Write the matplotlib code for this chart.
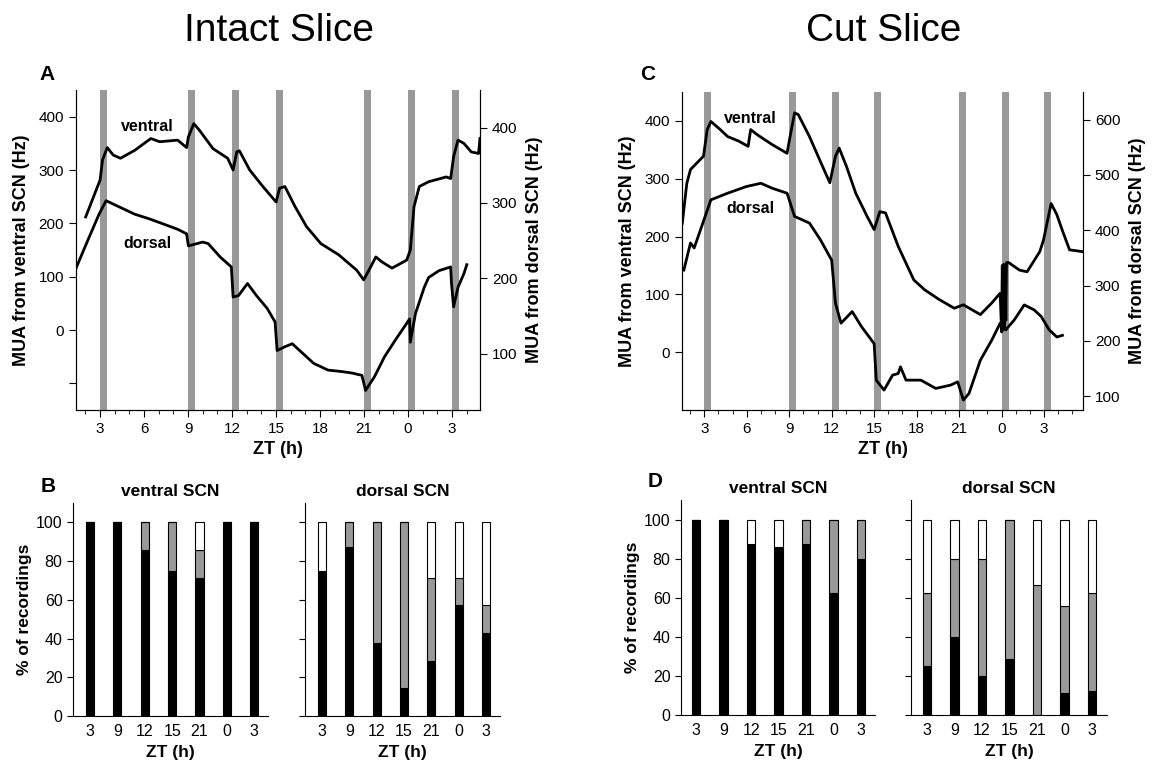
import matplotlib
matplotlib.use("Agg")
import matplotlib.pyplot as plt
from matplotlib.ticker import MultipleLocator

plt.rcParams['font.family'] = ['Liberation Sans', 'DejaVu Sans']

# ---- data -------------------------------------------------------------
# time axis in hours (ZT 0 of day 2 = 24, ZT 3 of day 2 = 27)
zt_ticks = [3, 6, 9, 12, 15, 18, 21, 24, 27]
zt_tick_labels = ['3', '6', '9', '12', '15', '18', '21', '0', '3']
pulse_starts = [3, 9, 12, 15, 21, 24, 27]
pulse_len = 0.5

# intact slice (A)
a_ventral_t = [2.02, 3.0, 3.17, 3.49, 3.9, 4.39, 5.37, 6.46, 7.07, 8.29, 8.9, 9.02, 9.39, 9.76,
               10.7, 11.7, 12.07, 12.32, 12.5, 13.2, 14.1, 15.0, 15.24, 15.6, 16.3, 17.07,
               18.05, 19.27, 20.5, 20.97, 21.46, 21.8, 22.2, 22.9, 23.9, 24.15, 24.4, 24.76,
               25.4, 26.6, 26.9, 27.1, 27.4, 27.8, 28.3, 28.8, 28.9]
a_ventral = [212, 281, 319, 342, 328, 322, 337, 359, 353, 356, 342, 362, 387, 375,
             340, 322, 300, 334, 336, 300, 269, 240, 266, 269, 231, 194,
             162, 141, 112, 94, 119, 137, 128, 116, 131, 150, 231, 269,
             278, 287, 284, 325, 356, 350, 334, 331, 359]
a_dorsal_t = [1.29, 2.2, 2.93, 3.41, 4.39, 5.37, 6.34, 7.32, 8.29, 8.9, 9.02, 10.0, 10.37,
              11.2, 11.95, 12.07, 12.44, 13.05, 13.66, 14.39, 14.93, 15.07, 15.6, 16.1,
              16.83, 17.56, 18.54, 19.5, 20.2, 20.85, 21.1, 21.7, 22.4, 23.2, 23.9, 24.1,
              24.15, 24.5, 25.1, 25.4, 26.1, 26.9, 26.95, 27.1, 27.4, 27.8, 28.0]
a_dorsal = [210, 252, 285, 303, 294, 285, 279, 272, 265, 259, 243, 248, 246,
            228, 215, 175, 177, 193, 177, 160, 142, 104, 109, 113,
            100, 87, 78, 76, 74, 71, 51, 69, 96, 120, 140, 146,
            115, 153, 188, 201, 210, 215, 195, 162, 188, 206, 218]

# cut slice (C)
c_ventral_t = [1.45, 1.77, 2.03, 2.95, 3.21, 3.47, 4.13, 4.65, 5.44, 6.1, 6.28, 6.75, 7.8,
               8.85, 8.98, 9.38, 9.64, 10.43, 11.2, 11.87, 12.27, 12.53, 13.05, 13.7, 14.5,
               15.0, 15.4, 15.8, 16.7, 17.8, 18.56, 19.6, 20.66, 21.3, 22.5, 23.3, 23.9,
               24.0, 24.05, 24.1, 24.15, 24.2, 24.25, 24.3, 24.35, 24.5, 25.26, 25.8, 26.7,
               26.96, 27.5, 27.9, 28.3, 28.8, 29.7]
c_ventral = [223, 292, 316, 339, 385, 399, 385, 373, 365, 356, 385, 376, 359,
             344, 362, 414, 411, 373, 330, 293, 339, 353, 321, 275, 235,
             212, 243, 241, 183, 125, 108, 91, 76, 82, 65, 85, 102,
             35, 150, 38, 152, 40, 148, 55, 155, 155, 142, 139, 174,
             194, 257, 238, 210, 177, 174]
c_dorsal_t = [1.56, 2.03, 2.29, 2.82, 3.47, 4.65, 5.97, 7.0, 7.8, 8.85, 9.38, 10.43, 11.2,
              12.0, 12.27, 12.66, 13.45, 14.1, 15.0, 15.15, 15.7, 16.3, 16.7, 16.86, 17.25,
              18.3, 19.35, 20.4, 20.9, 21.3, 21.7, 22.5, 23.3, 23.9, 24.3, 24.9, 25.6,
              26.3, 26.8, 27.36, 27.9, 28.3]
c_dorsal = [328, 377, 368, 407, 455, 467, 479, 485, 476, 467, 425, 413, 383,
            346, 268, 232, 253, 226, 195, 129, 111, 138, 141, 153, 129,
            129, 114, 120, 126, 93, 105, 165, 201, 232, 220, 238, 265,
            256, 244, 220, 207, 210]

# stacked percentages of recordings (black / grey / white)
bar_labels = ['3', '9', '12', '15', '21', '0', '3']
b_ventral_black = [100, 100, 85.7, 75.0, 71.4, 100, 100]
b_ventral_grey = [0, 0, 14.3, 25.0, 14.3, 0, 0]
b_ventral_white = [0, 0, 0, 0, 14.3, 0, 0]
b_dorsal_black = [75.0, 87.5, 37.5, 14.3, 28.6, 57.1, 42.9]
b_dorsal_grey = [0, 12.5, 62.5, 85.7, 42.8, 14.3, 14.2]
b_dorsal_white = [25.0, 0, 0, 0, 28.6, 28.6, 42.9]
d_ventral_black = [100, 100, 87.5, 85.7, 87.5, 62.5, 80.0]
d_ventral_grey = [0, 0, 0, 0, 12.5, 37.5, 20.0]
d_ventral_white = [0, 0, 12.5, 14.3, 0, 0, 0]
d_dorsal_black = [25.0, 40.0, 20.0, 28.6, 0, 11.1, 12.5]
d_dorsal_grey = [37.5, 40.0, 60.0, 71.4, 66.7, 44.5, 50.0]
d_dorsal_white = [37.5, 20.0, 20.0, 0, 33.3, 44.4, 37.5]

GREY = '#999999'
W, H = 1162, 763


def px_axes(fig, x0, x1, y0, y1):
    """axes from pixel box (top-left origin)"""
    return fig.add_axes([x0 / W, 1 - y1 / H, (x1 - x0) / W, (y1 - y0) / H])


def trace_panel(fig, box, tv, v, td, d, lylim, lyticks, lylabels, rylim, ryticks, xlim,
                vlab, dlab):
    ax = px_axes(fig, *box)
    for s in pulse_starts:
        ax.axvspan(s, s + pulse_len, color=GREY, lw=0, zorder=0)
    ax.plot(tv, v, color='black', lw=2.0, zorder=3)
    ax.set_xlim(*xlim)
    ax.set_ylim(*lylim)
    ax.set_yticks(lyticks)
    ax.set_yticklabels(lylabels)
    ax.set_xticks(zt_ticks)
    ax.set_xticklabels(zt_tick_labels)
    ax.xaxis.set_minor_locator(MultipleLocator(1))
    ax.spines['top'].set_visible(False)
    ax.tick_params(labelsize=11, direction='out', length=5)
    ax.tick_params(which='minor', length=3)
    ax.set_xlabel('ZT (h)', fontsize=13, fontweight='bold', labelpad=4)
    ax.set_ylabel('MUA from ventral SCN (Hz)', fontsize=13, fontweight='bold', labelpad=6)
    ax.text(vlab[0], vlab[1], 'ventral', fontsize=11.5, fontweight='bold', ha='center', va='center')
    ax.text(dlab[0], dlab[1], 'dorsal', fontsize=11.5, fontweight='bold', ha='center', va='center')

    ax2 = ax.twinx()
    ax2.plot(td, d, color='black', lw=2.0, zorder=3)
    ax2.set_ylim(*rylim)
    ax2.set_yticks(ryticks)
    ax2.spines['top'].set_visible(False)
    ax2.tick_params(labelsize=11, direction='out', length=5)
    ax2.set_ylabel('MUA from dorsal SCN (Hz)', fontsize=13, fontweight='bold', labelpad=6)
    return ax


def bar_panel(fig, box, black, grey, white, xlim, title, ylabel):
    ax = px_axes(fig, *box)
    x = list(range(len(bar_labels)))
    kw = dict(width=0.3, edgecolor='black', linewidth=0.8)
    ax.bar(x, black, color='black', **kw)
    ax.bar(x, grey, bottom=black, color=GREY, **kw)
    ax.bar(x, white, bottom=[b + g for b, g in zip(black, grey)], color='white', **kw)
    ax.set_xlim(*xlim)
    ax.set_ylim(0, 110)
    ax.set_yticks([0, 20, 40, 60, 80, 100])
    ax.set_xticks(x)
    ax.set_xticklabels(bar_labels)
    for sp in ('top', 'right'):
        ax.spines[sp].set_visible(False)
    ax.tick_params(labelsize=11.5, direction='out', length=4)
    ax.tick_params(axis='x', length=0, pad=6)
    ax.set_xlabel('ZT (h)', fontsize=12.5, fontweight='bold', labelpad=4)
    ax.set_title(title, fontsize=12.5, fontweight='bold', pad=5)
    if ylabel:
        ax.set_ylabel('% of recordings', fontsize=12.5, fontweight='bold', labelpad=3)
    else:
        ax.set_yticklabels([])
    return ax


fig = plt.figure(figsize=(W / 100, H / 100), dpi=100)

fig.text(279 / W, 1 - 31 / H, 'Intact Slice', fontsize=28, ha='center', va='center')
fig.text(884 / W, 1 - 31 / H, 'Cut Slice', fontsize=28, ha='center', va='center')

trace_panel(fig, (76, 480, 90, 410), a_ventral_t, a_ventral, a_dorsal_t, a_dorsal,
            (-150, 450), [-100, 0, 100, 200, 300, 400], ['', '0', '100', '200', '300', '400'],
            (25, 450), [100, 200, 300, 400], (1.36, 28.9), (6.24, 381), (6.24, 162))
trace_panel(fig, (682, 1083, 92, 410), c_ventral_t, c_ventral, c_dorsal_t, c_dorsal,
            (-100, 450), [0, 100, 200, 300, 400], ['0', '100', '200', '300', '400'],
            (75, 650), [100, 200, 300, 400, 500, 600], (1.43, 29.75), (6.23, 405), (6.23, 249))

bar_panel(fig, (73, 268, 503, 716), b_ventral_black, b_ventral_grey, b_ventral_white,
          (-0.62, 6.5), 'ventral SCN', True)
bar_panel(fig, (305, 500, 503, 716), b_dorsal_black, b_dorsal_grey, b_dorsal_white,
          (-0.62, 6.51), 'dorsal SCN', False)
bar_panel(fig, (681, 875, 500, 715), d_ventral_black, d_ventral_grey, d_ventral_white,
          (-0.55, 6.51), 'ventral SCN', True)
bar_panel(fig, (911, 1107, 500, 715), d_dorsal_black, d_dorsal_grey, d_dorsal_white,
          (-0.58, 6.55), 'dorsal SCN', False)

for lab, x, y in [('A', 47, 75), ('C', 648, 75), ('B', 48, 487), ('D', 655, 482)]:
    fig.text(x / W, 1 - y / H, lab, fontsize=15, fontweight='bold', ha='center', va='center')

fig.savefig('out.png', dpi=100)
